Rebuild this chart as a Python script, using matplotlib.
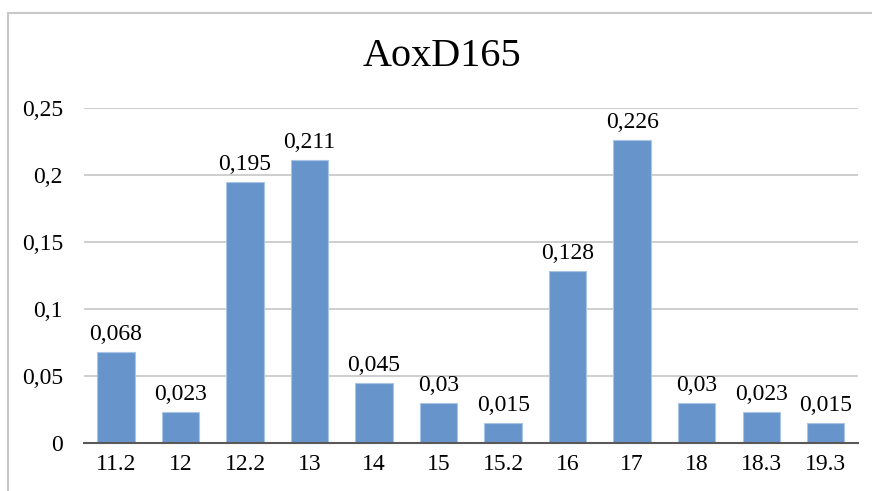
import matplotlib.pyplot as plt
from matplotlib.patches import Rectangle

categories = ['11.2', '12', '12.2', '13', '14', '15', '15.2', '16', '17', '18', '18.3', '19.3']
values = [0.068, 0.023, 0.195, 0.211, 0.045, 0.03, 0.015, 0.128, 0.226, 0.03, 0.023, 0.015]
yticks = [0, 0.05, 0.1, 0.15, 0.2, 0.25]
ytick_labels = ['0', '0,05', '0,1', '0,15', '0,2', '0,25']

plt.rcParams['font.family'] = ['Liberation Serif', 'DejaVu Serif']

fig = plt.figure(figsize=(8.72, 4.91), dpi=100)
ax = fig.add_axes([0.096, 0.098, 0.888, 0.682])

# chart frame (cropped at right and bottom like the reference)
fig.patches.append(Rectangle((8 / 872, -0.1), 1.2, 1 - 13 / 491 + 0.1,
                             transform=fig.transFigure, fill=False,
                             edgecolor='#C8C8C8', linewidth=1.5))

x = range(len(categories))
bars = ax.bar(x, values, width=0.58, color='#6795CB', edgecolor='#A9C4E4', linewidth=0.8, zorder=3)

for xi, v in zip(x, values):
    ax.annotate(('%g' % v).replace('.', ','), (xi, v), xytext=(0, 5),
                textcoords='offset points', ha='center', va='bottom', fontsize=17)

ax.set_xlim(-0.5, len(categories) - 0.5)
ax.set_ylim(0, 0.25)
ax.set_yticks(yticks)
ax.set_yticklabels(ytick_labels)
ax.set_xticks(list(x))
ax.set_xticklabels(categories)
ax.tick_params(axis='y', length=0, pad=15, labelsize=17)
ax.tick_params(axis='x', length=0, pad=8, labelsize=17)
ax.grid(axis='y', color='#C6C6C6', linewidth=1.2, zorder=0)
for s in ['top', 'right', 'left']:
    ax.spines[s].set_visible(False)
ax.spines['bottom'].set_color('#595959')
ax.spines['bottom'].set_linewidth(1.5)
ax.spines['bottom'].set_zorder(4)

fig.text(0.507, 0.885, 'AoxD165', ha='center', va='center', fontsize=29)

fig.savefig('out.png', dpi=100, facecolor='white')
